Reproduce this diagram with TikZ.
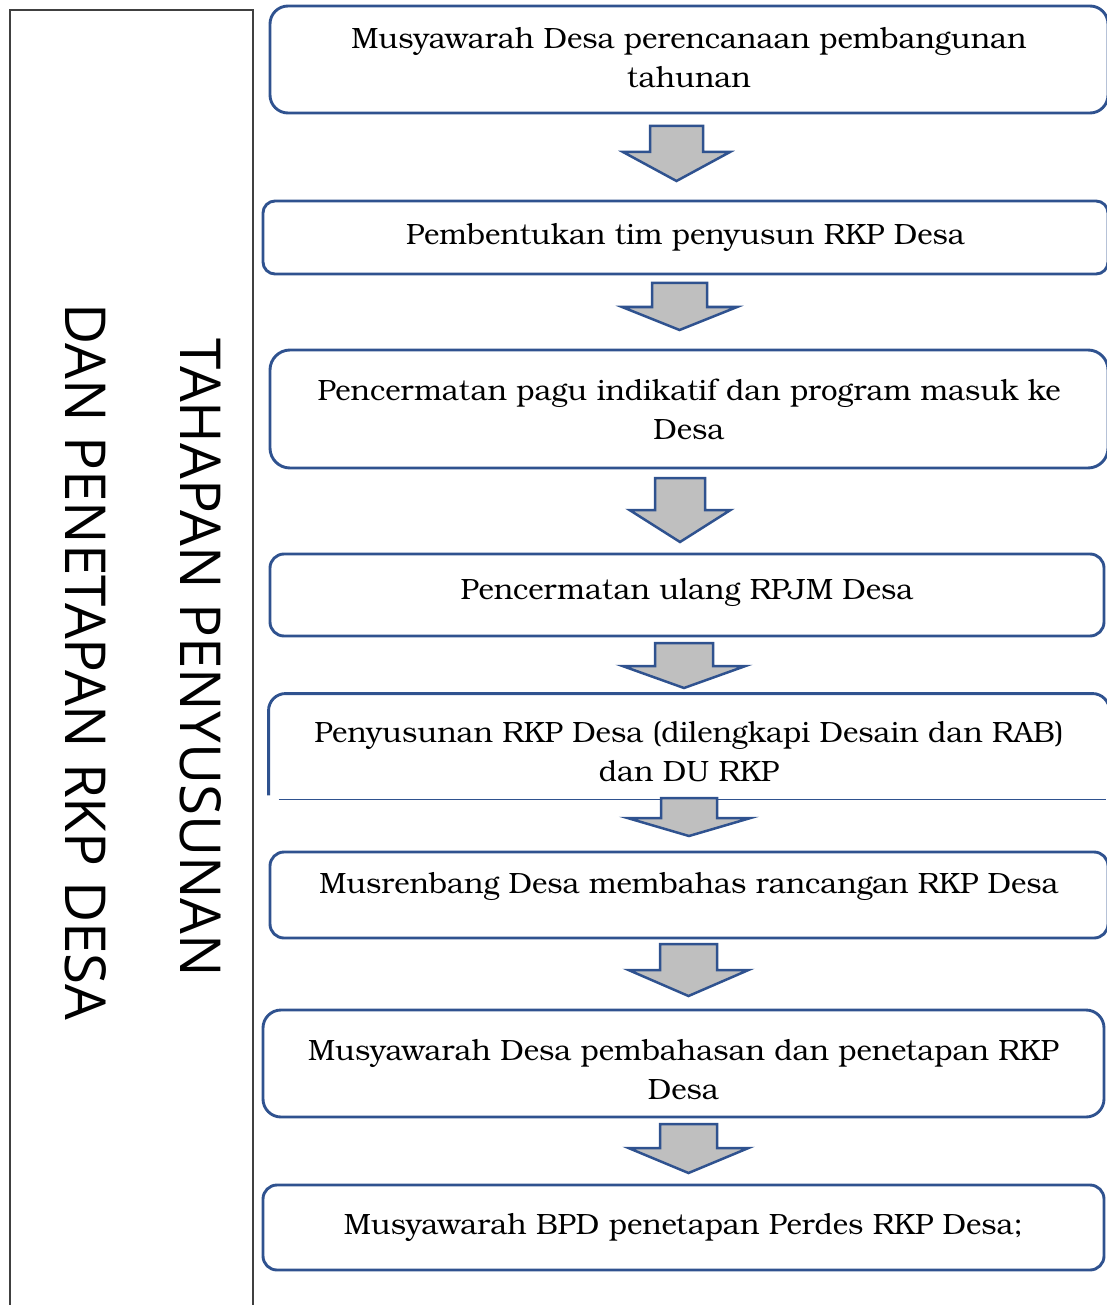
\documentclass[tikz,border=0pt]{standalone}
\usepackage{fontspec}
\setmainfont{texgyrebonum-regular.otf}
\newfontfamily\headfont{Open Sans}
\usetikzlibrary{positioning}
\definecolor{boxblue}{RGB}{47,82,143}
\definecolor{arrowgray}{RGB}{191,191,191}
\definecolor{framegray}{RGB}{64,64,64}
% move the lines of a step up or down inside its box
\newcommand{\shifttext}[2]{\raisebox{#1}[\height][\depth]{\begin{tabular}{@{}c@{}}#2\end{tabular}}}

\begin{document}
\begin{tikzpicture}[x=1pt,y=-1pt]
\tikzset{
  stepbox/.style={draw=boxblue,line width=2.9pt,rounded corners=#1,align=center,inner sep=0pt,font=\fontsize{29.35}{39}\selectfont},
  stepbox/.default=16pt,
  blockarrow/.style={draw=boxblue,fill=arrowgray,line width=2.5pt,line join=miter},
  titletext/.style={rotate=-90,inner sep=0pt,font=\headfont\fontsize{56.5}{70}\selectfont}
}
\useasboundingbox (0,0) rectangle (1107,1305);
% left frame and title
\draw[framegray,line width=1.4pt] (10,1310) |- (253,10) -- (253,1310);
\node[titletext] (t_top) at (201,658) {TAHAPAN PENYUSUNAN};
\node[titletext] (t_bot) at (86,662) {DAN PENETAPAN RKP DESA};
% steps
\node[stepbox=18pt,minimum width=838pt,minimum height=107pt] (s1) at (689,59.5) {\shifttext{-0.5pt}{Musyawarah Desa perencanaan pembangunan\\tahunan}};
\node[stepbox=12pt,minimum width=845pt,minimum height=73pt] (s2) at (685.5,237.5) {Pembentukan tim penyusun RKP Desa};
\node[stepbox=20pt,minimum width=838pt,minimum height=118pt] (s3) at (689,409) {Pencermatan pagu indikatif dan program masuk ke\\Desa};
\node[stepbox=14pt,minimum width=834pt,minimum height=82pt] (s4) at (687,595) {\shifttext{3.5pt}{Pencermatan ulang RPJM Desa}};
\node[stepbox,draw=none,minimum width=838pt,minimum height=103pt] (s5) at (689,746.5) {\shifttext{-8pt}{Penyusunan RKP Desa (dilengkapi Desain dan RAB)\\dan DU RKP}};
\draw[boxblue,line width=2.9pt,rounded corners=17pt] ([yshift=4pt]s5.south west) -- (s5.north west) -- (s5.north east) -- ([yshift=4pt]s5.south east);
\draw[boxblue,line width=1.7pt] ([xshift=10pt]s5.south west) -- ([xshift=-3pt]s5.south east);
\node[stepbox=14pt,minimum width=838pt,minimum height=86pt] (s6) at (689,895) {\shifttext{9pt}{Musrenbang Desa membahas rancangan RKP Desa}};
\node[stepbox=18pt,minimum width=841pt,minimum height=107pt] (s7) at (683.5,1063.5) {\shifttext{-9pt}{Musyawarah Desa pembahasan dan penetapan RKP\\Desa}};
\node[stepbox=14pt,minimum width=841pt,minimum height=85pt] (s8) at (683.5,1227.5) {Musyawarah BPD penetapan Perdes RKP Desa;};
% block arrows between steps
\foreach \cx/\ya/\yb/\yc/\sw/\hw in {676.5/126/152/181/26.5/53.5, 679.5/283/307/330/27.5/57.5,
    680/478/510/542/25/50.5, 684/643/666/688/29/61.5, 689/798/818/836/28/61.5,
    688.5/944/970/996/28.5/60, 688.5/1124/1148/1173/28.5/60}
  \draw[blockarrow] (\cx-\sw,\ya) -- (\cx+\sw,\ya) -- (\cx+\sw,\yb) -- (\cx+\hw,\yb)
    -- (\cx,\yc) -- (\cx-\hw,\yb) -- (\cx-\sw,\yb) -- cycle;
\end{tikzpicture}
\end{document}
